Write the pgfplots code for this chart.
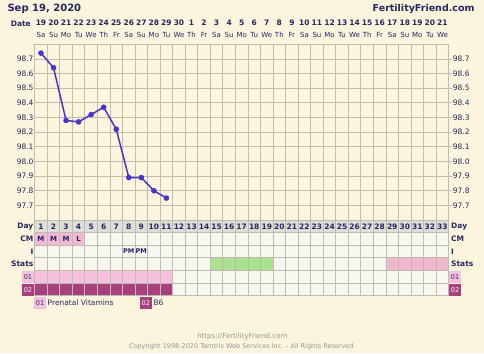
\documentclass[border=0pt]{standalone}
\usepackage{pgfplots}
\pgfplotsset{compat=1.18}
\usepackage{fontspec}
\setmainfont{DejaVu Sans}
\definecolor{bgc}{RGB}{250,245,220}
\definecolor{gridc}{RGB}{192,188,174}
\definecolor{cellc}{RGB}{247,247,240}
\definecolor{dayc}{RGB}{222,222,216}
\definecolor{navy}{RGB}{40,38,100}
\definecolor{linec}{RGB}{72,52,204}
\definecolor{pinkl}{RGB}{245,192,222}
\definecolor{pinkcm}{RGB}{243,184,214}
\definecolor{magc}{RGB}{168,64,128}
\definecolor{greenc}{RGB}{168,226,140}
\definecolor{pinks}{RGB}{240,184,204}
\definecolor{footc}{RGB}{150,150,150}
\newcommand\fs[1]{\fontsize{#1}{#1}\selectfont}
\begin{document}
\begin{tikzpicture}[x=1pt,y=1pt]
\useasboundingbox (0,0) rectangle (484,-353);
\fill[bgc] (0,0) rectangle (484,-353);

% main temperature chart
\begin{axis}[at={(34.7pt,-220pt)}, anchor=south west, scale only axis,
  width=414pt, height=175.7pt,
  xmin=0.5, xmax=33.5, ymin=97.6, ymax=98.8,
  xtick={1.5,2.5,...,32.5}, xticklabels={},
  ytick={97.7,97.8,...,98.7},
  yticklabel style={font=\fs{7.5}, text=navy, inner sep=1pt,
    /pgf/number format/.cd, fixed, fixed zerofill, precision=1, assume math mode=true},
  grid=major, major grid style={gridc, line width=0.8pt},
  axis line style={gridc, line width=0.8pt},
  major tick length=0pt, tick style={draw=none}]
\addplot[color=linec, line width=1.5pt, mark=*, mark size=2.5pt, mark options={fill=linec, line width=0.5pt}]
  coordinates {(1,98.74) (2,98.64) (3,98.28) (4,98.27) (5,98.32) (6,98.37) (7,98.22) (8,97.89) (9,97.89) (10,97.80) (11,97.75)};
\end{axis}
% right-hand labels
\begin{axis}[at={(34.7pt,-220pt)}, anchor=south west, scale only axis,
  width=414pt, height=175.7pt,
  xmin=0.5, xmax=33.5, ymin=97.6, ymax=98.8,
  axis x line=none, axis y line*=right,
  ytick={97.7,97.8,...,98.7},
  yticklabel style={font=\fs{7.5}, text=navy, inner sep=1pt,
    /pgf/number format/.cd, fixed, fixed zerofill, precision=1, assume math mode=true},
  axis line style={gridc, line width=0.8pt},
  tick align=outside, major tick length=3pt, tick style={gridc, line width=0.8pt}]
\end{axis}

% lower rows
\begin{axis}[at={(34.7pt,-295.7pt)}, anchor=south west, scale only axis,
  width=414pt, height=75.7pt,
  xmin=0.5, xmax=33.5, ymin=0, ymax=6,
  xtick={1.5,2.5,...,32.5}, xticklabels={},
  ytick={1,2,3,4,5}, yticklabels={},
  grid=major, major grid style={gridc, line width=0.8pt},
  axis line style={gridc, line width=0.8pt},
  major tick length=0pt, tick style={draw=none}, axis on top]
\fill[cellc] (axis cs:0.5,0) rectangle (axis cs:33.5,5);
\fill[dayc] (axis cs:0.5,5) rectangle (axis cs:33.5,6);
\fill[pinkcm] (axis cs:0.5,4) rectangle (axis cs:4.5,5);
\fill[greenc] (axis cs:14.5,2) rectangle (axis cs:19.5,3);
\fill[pinks] (axis cs:28.5,2) rectangle (axis cs:33.5,3);
\fill[pinkl] (axis cs:0.5,1) rectangle (axis cs:11.5,2);
\fill[magc] (axis cs:0.5,0) rectangle (axis cs:11.5,1);
\end{axis}

% header
\node[anchor=west, text=navy, font=\fs{10}\bfseries] at (4,-9) {Sep 19, 2020};
\node[anchor=east, text=navy, font=\fs{9.5}\bfseries] at (478,-9) {FertilityFriend.com};
\node[anchor=east, text=navy, font=\fs{7.5}\bfseries, inner sep=0pt] at (31,-24) {Date};
\foreach \i/\d/\w in {1/19/Sa,2/20/Su,3/21/Mo,4/22/Tu,5/23/We,6/24/Th,7/25/Fr,8/26/Sa,9/27/Su,10/28/Mo,11/29/Tu,12/30/We,13/1/Th,14/2/Fr,15/3/Sa,16/4/Su,17/5/Mo,18/6/Tu,19/7/We,20/8/Th,21/9/Fr,22/10/Sa,23/11/Su,24/12/Mo,25/13/Tu,26/14/We,27/15/Th,28/16/Fr,29/17/Sa,30/18/Su,31/19/Mo,32/20/Tu,33/21/We}{
  \node[text=navy, font=\fs{7.5}\bfseries, inner sep=0pt] at ({34.7+(\i-0.5)*12.545},-23) {\d};
  \node[text=navy, font=\fs{7}, inner sep=0pt] at ({34.7+(\i-0.5)*12.545},-35) {\w};
}
% day numbers
\foreach \i in {1,...,33}{
  \node[text=navy, font=\fs{7.5}\bfseries, inner sep=0pt] at ({34.7+(\i-0.5)*12.545},-226.4) {\i};
}
% row contents
\foreach \i/\t in {1/M,2/M,3/M,4/L}{
  \node[text=navy, font=\fs{7}\bfseries, inner sep=0pt] at ({34.7+(\i-0.5)*12.545},-239) {\t};
}
\foreach \i in {8,9}{
  \node[text=navy, font=\fs{6.5}\bfseries, inner sep=0pt] at ({34.7+(\i-0.5)*12.545},-251.4) {PM};
}
% row labels left
\node[anchor=east, text=navy, font=\fs{7.5}\bfseries, inner sep=0pt] at (33.5,-226.4) {Day};
\node[anchor=east, text=navy, font=\fs{7.5}\bfseries, inner sep=0pt] at (33.5,-239) {CM};
\node[anchor=east, text=navy, font=\fs{7.5}\bfseries, inner sep=0pt] at (33.5,-251.4) {I};
\node[anchor=east, text=navy, font=\fs{7.5}\bfseries, inner sep=0pt] at (33.5,-264) {Stats};
\fill[pinkl] (22,-271) rectangle (34,-282.5);
\node[text=navy, font=\fs{6.5}, inner sep=0pt] at (28,-276.8) {01};
\fill[magc] (22,-284) rectangle (34,-295.5);
\node[text=white, font=\fs{6.5}, inner sep=0pt] at (28,-289.7) {02};
% row labels right
\node[anchor=west, text=navy, font=\fs{7.5}\bfseries, inner sep=0pt] at (451,-226.4) {Day};
\node[anchor=west, text=navy, font=\fs{7.5}\bfseries, inner sep=0pt] at (451,-239) {CM};
\node[anchor=west, text=navy, font=\fs{7.5}\bfseries, inner sep=0pt] at (451,-251.4) {I};
\node[anchor=west, text=navy, font=\fs{7.5}\bfseries, inner sep=0pt] at (451,-264) {Stats};
\fill[pinkl] (449.3,-271) rectangle (461,-282.5);
\node[text=navy, font=\fs{6.5}, inner sep=0pt] at (455,-276.8) {01};
\fill[magc] (449.3,-284) rectangle (461,-295.5);
\node[text=white, font=\fs{6.5}, inner sep=0pt] at (455,-289.7) {02};
% legend
\fill[pinkl] (34.3,-297.3) rectangle (46,-308.5);
\node[text=navy, font=\fs{6.5}, inner sep=0pt] at (40.1,-303) {01};
\node[anchor=west, text=navy, font=\fs{7.5}, inner sep=0pt] at (47.5,-303) {Prenatal Vitamins};
\fill[magc] (140,-297.3) rectangle (151.7,-308.5);
\node[text=white, font=\fs{6.5}, inner sep=0pt] at (145.8,-303) {02};
\node[anchor=west, text=navy, font=\fs{7.5}, inner sep=0pt] at (153.3,-303) {B6};
% footer
\node[text=footc, font=\fs{7}, inner sep=0pt] at (242.3,-336.7) {https://FertilityFriend.com};
\node[text=footc, font=\fs{6.5}, inner sep=0pt] at (242.3,-346.3) {Copyright 1998-2020 Tamtris Web Services Inc. - All Rights Reserved.};
\end{tikzpicture}
\end{document}
